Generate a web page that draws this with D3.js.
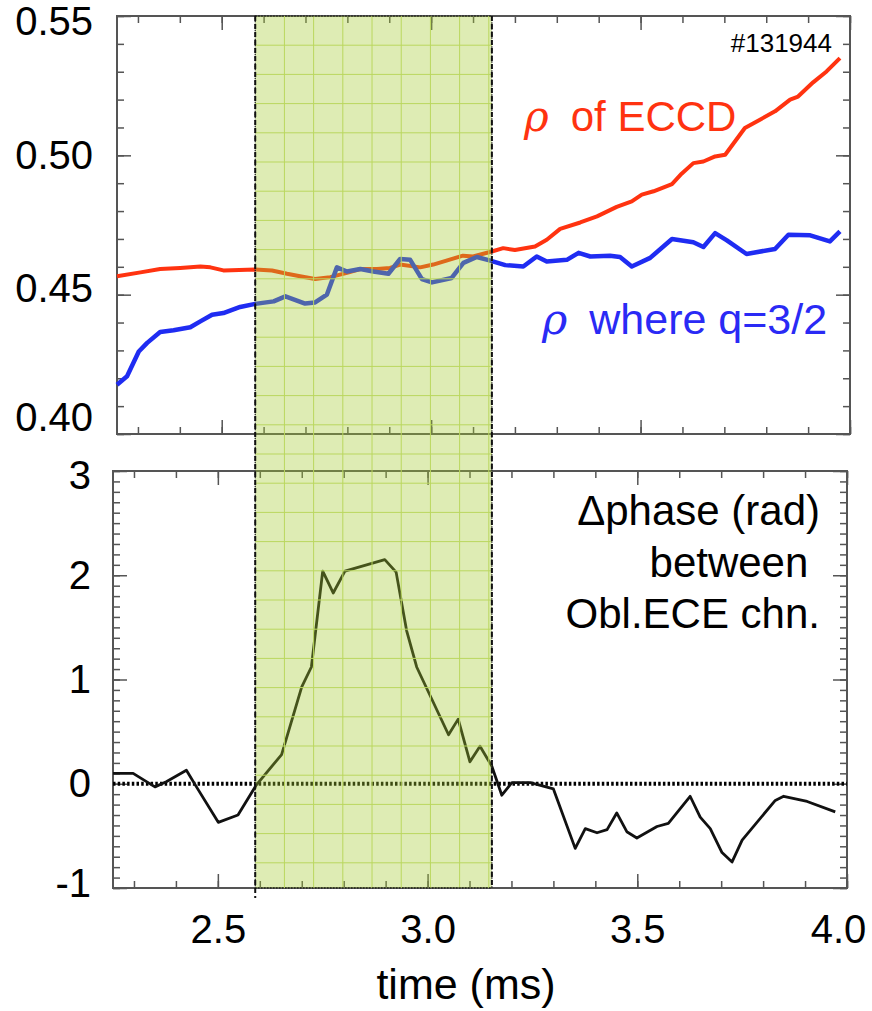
<!DOCTYPE html>
<html>
<head>
<meta charset="utf-8">
<script src="https://cdn.jsdelivr.net/npm/d3@7"></script>
<style>
  body { margin: 0; background: #fff; }
  text { font-family: "Liberation Sans", Arial, Helvetica, sans-serif; }
</style>
</head>
<body>
<div id="chart"></div>
<script>
// rho of ECCD deposition
var timeEccd = [2.25,2.306,2.353,2.401,2.449,2.473,2.504,2.580,2.620,2.656,2.687,2.723,2.759,2.799,2.831,2.871,2.902,2.926,2.974,3.005,3.076,3.100,3.145,3.172,3.200,3.248,3.276,3.308,3.356,3.396,3.443,3.479,3.503,3.531,3.575,3.598,3.626,3.650,3.678,3.702,3.749,3.785,3.821,3.857,3.876,3.912,3.944,3.976];
var rhoEccd = [0.4566,0.4580,0.4592,0.4596,0.4601,0.4598,0.4587,0.4590,0.4587,0.4575,0.4566,0.4556,0.4563,0.4578,0.4592,0.4592,0.4596,0.4608,0.4598,0.4608,0.4640,0.4637,0.4655,0.4667,0.4660,0.4673,0.4697,0.4736,0.4759,0.4781,0.4815,0.4835,0.4859,0.4871,0.4897,0.4934,0.4972,0.4978,0.4996,0.5002,0.5098,0.5128,0.5158,0.5200,0.5211,0.5262,0.5301,0.5349];

// rho where q=3/2
var timeQ = [2.25,2.274,2.302,2.322,2.353,2.385,2.425,2.449,2.477,2.504,2.544,2.580,2.624,2.652,2.699,2.723,2.751,2.775,2.799,2.831,2.862,2.898,2.926,2.950,2.978,3.002,3.049,3.077,3.109,3.137,3.177,3.220,3.252,3.276,3.324,3.352,3.380,3.427,3.451,3.479,3.523,3.575,3.626,3.650,3.678,3.706,3.753,3.821,3.853,3.905,3.952,3.976];
var rhoQ = [0.4177,0.4207,0.4296,0.4327,0.4366,0.4372,0.4383,0.4404,0.4428,0.4434,0.4456,0.4467,0.4476,0.4494,0.4468,0.4472,0.4500,0.4598,0.4583,0.4592,0.4583,0.4575,0.4628,0.4625,0.4556,0.4544,0.4560,0.4614,0.4635,0.4624,0.4606,0.4601,0.4637,0.4619,0.4625,0.4650,0.4637,0.4640,0.4635,0.4601,0.4632,0.4700,0.4688,0.4671,0.4721,0.4695,0.4646,0.4664,0.4715,0.4713,0.4691,0.4727];

// delta phase between oblique ECE channels
var timePhase = [2.25,2.298,2.350,2.377,2.425,2.449,2.501,2.548,2.592,2.652,2.700,2.723,2.750,2.775,2.803,2.898,2.925,2.950,2.974,3.050,3.073,3.101,3.125,3.153,3.177,3.201,3.245,3.300,3.352,3.376,3.404,3.428,3.451,3.475,3.499,3.547,3.574,3.626,3.650,3.674,3.702,3.726,3.750,3.829,3.849,3.905,3.972];
var dPhase = [0.10,0.10,-0.03,0.02,0.13,-0.03,-0.37,-0.30,-0.01,0.28,0.93,1.12,2.04,1.83,2.04,2.15,2.03,1.47,1.12,0.47,0.62,0.21,0.36,0.17,-0.11,0.01,0.01,-0.05,-0.62,-0.43,-0.47,-0.44,-0.28,-0.46,-0.52,-0.41,-0.38,-0.12,-0.32,-0.43,-0.66,-0.75,-0.54,-0.16,-0.12,-0.17,-0.27];

var xTicks = [2.5, 3.0, 3.5, 4.0];
var yTopTicks = [0.40, 0.45, 0.50, 0.55];
var yBotTicks = [-1, 0, 1, 2, 3];
var shadeWindow = [2.58, 3.145];

var width = 872, height = 1011;

var svg = d3.select("#chart").append("svg")
  .attr("width", width)
  .attr("height", height);

var xTop = d3.scaleLinear().domain([2.25, 4.0]).range([117, 850]);
var xBot = d3.scaleLinear().domain([2.25, 4.0]).range([113, 847]);
var yTop = d3.scaleLinear().domain([0.40, 0.55]).range([434, 16]);
var yBot = d3.scaleLinear().domain([-1, 3]).range([888, 471]);

var frameColor = "#555";

// inward ticks on all four sides, minor and major
function frame(x, y, xMinor, xMajor, yMinor, yMajor) {
  var x0 = x.range()[0], x1 = x.range()[1];
  var y0 = y.range()[1], y1 = y.range()[0];
  var g = svg.append("g").attr("class", "frame");
  var sets = [[xMinor, yMinor, 7], [xMajor, yMajor, 14]];
  sets.forEach(function(s) {
    g.append("g").attr("transform", "translate(0," + y0 + ")")
      .call(d3.axisBottom(x).tickValues(s[0]).tickSize(s[2]).tickFormat(""));
    g.append("g").attr("transform", "translate(0," + y1 + ")")
      .call(d3.axisTop(x).tickValues(s[0]).tickSize(s[2]).tickFormat(""));
    g.append("g").attr("transform", "translate(" + x0 + ",0)")
      .call(d3.axisRight(y).tickValues(s[1]).tickSize(s[2]).tickFormat(""));
    g.append("g").attr("transform", "translate(" + x1 + ",0)")
      .call(d3.axisLeft(y).tickValues(s[1]).tickSize(s[2]).tickFormat(""));
  });
  g.selectAll(".domain").remove();
  g.selectAll(".tick line").attr("stroke", frameColor).attr("stroke-width", 1.5);
  g.append("rect")
    .attr("x", x0).attr("y", y0)
    .attr("width", x1 - x0).attr("height", y1 - y0)
    .attr("fill", "none")
    .attr("stroke", frameColor)
    .attr("stroke-width", 2);
}

var xMinor = d3.ticks(2.25, 4.0, 17);
frame(xTop, yTop, xMinor, xTicks, d3.ticks(0.40, 0.55, 15), yTopTicks);
frame(xBot, yBot, xMinor, xTicks, d3.ticks(-1, 3, 40), yBotTicks);

// zero reference in lower panel
svg.append("line")
  .attr("x1", xBot.range()[0]).attr("x2", xBot.range()[1])
  .attr("y1", yBot(0)).attr("y2", yBot(0))
  .attr("stroke", "#000")
  .attr("stroke-width", 4)
  .attr("stroke-dasharray", "2.5,2.2");

function series(x, y, ts, vs, color, w) {
  var line = d3.line()
    .x(function(d) { return x(d[0]); })
    .y(function(d) { return y(d[1]); });
  svg.append("path")
    .datum(d3.zip(ts, vs))
    .attr("d", line)
    .attr("fill", "none")
    .attr("stroke", color)
    .attr("stroke-width", w)
    .attr("stroke-linejoin", "round");
}

series(xTop, yTop, timeEccd, rhoEccd, "#ff3310", 4);
series(xTop, yTop, timeQ, rhoQ, "#1f2cf2", 4.5);
series(xBot, yBot, timePhase, dPhase, "#111", 2.8);

// highlighted time window spanning both panels
var sx0 = xTop(shadeWindow[0]), sx1 = xTop(shadeWindow[1]);
var sy0 = yTop.range()[1], sy1 = yBot.range()[0];
var shade = svg.append("g").attr("class", "shade");
shade.append("rect")
  .attr("x", sx0).attr("y", sy0)
  .attr("width", sx1 - sx0).attr("height", sy1 - sy0)
  .attr("fill", "#a4c92e")
  .attr("fill-opacity", 0.36);
var cell = 29.2;
shade.selectAll(".gv")
  .data(d3.range(sx0 + cell, sx1, cell))
  .enter().append("line")
  .attr("x1", d => d).attr("x2", d => d)
  .attr("y1", sy0).attr("y2", sy1)
  .attr("stroke", "#bad75e").attr("stroke-width", 1);
shade.selectAll(".gh")
  .data(d3.range(sy0 + cell, sy1, cell))
  .enter().append("line")
  .attr("x1", sx0).attr("x2", sx1)
  .attr("y1", d => d).attr("y2", d => d)
  .attr("stroke", "#bad75e").attr("stroke-width", 1);
shade.append("rect")
  .attr("x", sx0).attr("y", sy0)
  .attr("width", sx1 - sx0).attr("height", sy1 - sy0)
  .attr("fill", "none")
  .attr("stroke", "#222")
  .attr("stroke-width", 1.3)
  .attr("stroke-dasharray", "1.5,1.5");
[sx0, sx1].forEach(function(xx) {
  shade.append("line")
    .attr("x1", xx).attr("x2", xx)
    .attr("y1", sy0).attr("y2", sy1 + (xx === sx0 ? 10 : 0))
    .attr("stroke", "#111")
    .attr("stroke-width", 2)
    .attr("stroke-dasharray", "5,3");
});

// tick labels
var labelFont = 40;
var nudgeY = {"0.55": 6, "0.45": -6, "0.40": -16, "3": 5, "-1": -4};
var nudgeX = {"4.0": -9};

var gyt = svg.append("g").attr("transform", "translate(" + xTop.range()[0] + ",0)")
  .call(d3.axisLeft(yTop).tickValues(yTopTicks).tickFormat(d3.format(".2f")).tickSize(0).tickPadding(24));
var gyb = svg.append("g").attr("transform", "translate(" + xBot.range()[0] + ",0)")
  .call(d3.axisLeft(yBot).tickValues(yBotTicks).tickFormat(function(d) { return String(d); }).tickSize(0).tickPadding(22));
var gx = svg.append("g").attr("transform", "translate(0," + yBot.range()[0] + ")")
  .call(d3.axisBottom(xBot).tickValues(xTicks).tickFormat(d3.format(".1f")).tickSize(0).tickPadding(27));

[gyt, gyb, gx].forEach(function(g) {
  g.select(".domain").remove();
  g.attr("font-size", null).attr("font-family", null);
  g.selectAll("text")
    .attr("font-size", labelFont)
    .attr("fill", "#000")
    .attr("transform", function() {
      var t = d3.select(this).text();
      return "translate(" + (nudgeX[t] || 0) + "," + (nudgeY[t] || 0) + ")";
    });
});

svg.append("text")
  .attr("x", 466).attr("y", 999)
  .attr("text-anchor", "middle")
  .attr("font-size", 43)
  .text("time (ms)");

// annotations
svg.append("text")
  .attr("x", 832).attr("y", 52)
  .attr("text-anchor", "end")
  .attr("font-size", 26)
  .text("#131944");

function rhoLabel(x, y, rest, color, size) {
  var t = svg.append("text").attr("x", x).attr("y", y).attr("fill", color).attr("font-size", size);
  t.append("tspan")
    .attr("font-family", "'DejaVu Serif', serif")
    .attr("font-style", "italic")
    .attr("font-size", size)
    .text("\u03C1");
  t.append("tspan").attr("dx", 22).text(rest);
}
rhoLabel(524, 131, "of ECCD", "#ff3310", 42);
rhoLabel(542, 334, "where q=3/2", "#2a2af5", 43);

var noteLines = ["\u0394phase (rad)", "between\u00A0", "Obl.ECE chn."];
svg.append("g").selectAll("text")
  .data(noteLines)
  .enter().append("text")
  .attr("x", 820)
  .attr("y", (d, i) => 525 + i * 51.5)
  .attr("text-anchor", "end")
  .attr("font-size", 42)
  .text(d => d);
</script>
</body>
</html>
